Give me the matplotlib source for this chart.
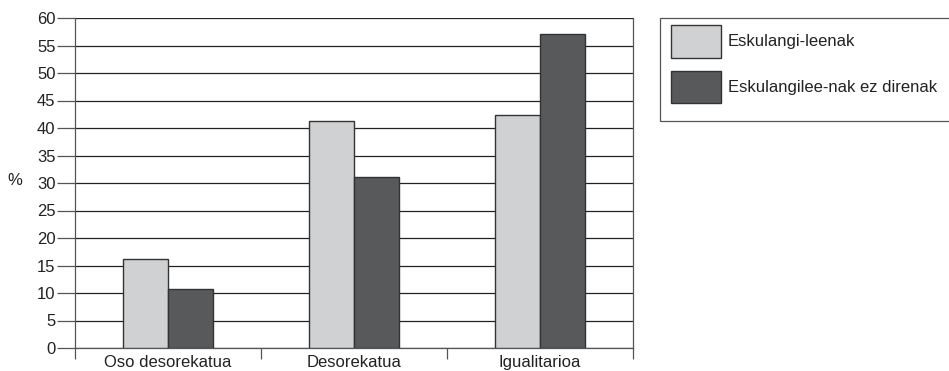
import matplotlib
matplotlib.use("Agg")
import matplotlib.pyplot as plt
from matplotlib.patches import Rectangle
import numpy as np

plt.rcParams["font.family"] = ["Liberation Sans", "DejaVu Sans"]

categories = ["Oso desorekatua", "Desorekatua", "Igualitarioa"]
series_names = ["Eskulangi-leenak", "Eskulangilee-nak ez direnak"]
manual = [16.1, 41.3, 42.3]
non_manual = [10.7, 31.1, 57.1]

LIGHT = "#d0d1d3"
DARK = "#58595b"
EDGE = "#333333"
LINE = "#555555"
TXT = "#222222"
FS = 12

W, H = 949, 371
fig = plt.figure(figsize=(W / 100, H / 100), dpi=100)
ax = fig.add_axes([75 / W, 1 - 348 / H, (633 - 75) / W, (348 - 18) / H])

x = np.arange(len(categories))
bw = 0.242
b1 = ax.bar(x - bw / 2, manual, bw, color=LIGHT, edgecolor=EDGE, linewidth=1,
            label=series_names[0], zorder=3)
b2 = ax.bar(x + bw / 2, non_manual, bw, color=DARK, edgecolor=EDGE, linewidth=1,
            label=series_names[1], zorder=3)

ax.set_xlim(-0.5, len(categories) - 0.5)
ax.set_ylim(0, 60)
ax.set_yticks(np.arange(0, 61, 5))
ax.yaxis.grid(True, color="#222222", linewidth=0.9, zorder=0)
ax.set_axisbelow(True)

# category labels centred, ticks at boundaries
ax.set_xticks(np.arange(-0.5, len(categories), 1.0))
ax.set_xticklabels([])
ax.set_xticks(x, minor=True)
ax.set_xticklabels(categories, minor=True, fontsize=FS, color=TXT)
ax.tick_params(axis="x", which="minor", length=0, pad=5)
ax.tick_params(axis="x", which="major", length=8, width=0.9, color=LINE)
ax.tick_params(axis="y", length=13, width=0.9, color=LINE, labelsize=FS,
               labelcolor=TXT, pad=1)

for s in ax.spines.values():
    s.set_color(LINE)
    s.set_linewidth(0.9)
ax.spines["top"].set_visible(False)

fig.text(15 / W, 1 - 181 / H, "%", fontsize=FS, color=TXT,
         ha="center", va="center")

# legend box (runs off the right edge)
fig.add_artist(Rectangle((660 / W, 1 - 121 / H), 300 / W, 103 / H,
                         transform=fig.transFigure, facecolor="white",
                         edgecolor=LINE, linewidth=0.9))
fig.legend(handles=[b1, b2], labels=series_names, loc="upper left",
           bbox_to_anchor=(658 / W, 1 - 12 / H), frameon=False, fontsize=FS,
           handlelength=2.95, handleheight=2.6, labelspacing=0.8,
           handletextpad=0.45, borderpad=0.3, labelcolor=TXT)

fig.savefig("out.png", dpi=100)
